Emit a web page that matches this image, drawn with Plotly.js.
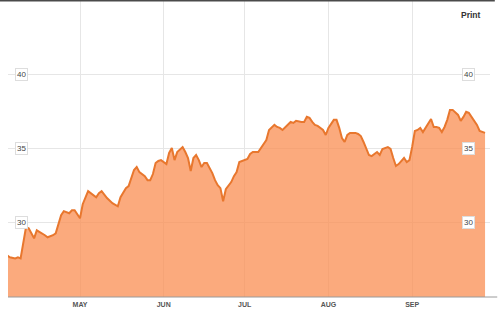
<!DOCTYPE html>
<html>
<head>
<meta charset="utf-8">
<script src="https://cdn.plot.ly/plotly-3.0.1.min.js"></script>
<style>html,body{margin:0;padding:0;background:#fff;}#chart{width:500px;height:311px;}</style>
</head>
<body>
<div id="chart"></div>
<script>
const dates = [
"2012-04-04","2012-04-05","2012-04-07","2012-04-08","2012-04-09","2012-04-11","2012-04-12","2012-04-14","2012-04-15","2012-04-17",
"2012-04-18","2012-04-19","2012-04-21","2012-04-22","2012-04-24","2012-04-25","2012-04-27","2012-04-28","2012-04-29","2012-05-01",
"2012-05-02","2012-05-04","2012-05-05","2012-05-07","2012-05-08","2012-05-09","2012-05-11","2012-05-13","2012-05-15","2012-05-16",
"2012-05-18","2012-05-19","2012-05-21","2012-05-22","2012-05-23","2012-05-25","2012-05-26","2012-05-27","2012-05-28","2012-05-29",
"2012-05-30","2012-05-31","2012-06-02","2012-06-03","2012-06-04","2012-06-05","2012-06-06","2012-06-07","2012-06-08","2012-06-09",
"2012-06-10","2012-06-11","2012-06-12","2012-06-13","2012-06-14","2012-06-15","2012-06-16","2012-06-17","2012-06-18","2012-06-19",
"2012-06-20","2012-06-21","2012-06-22","2012-06-23","2012-06-24","2012-06-26","2012-06-27","2012-06-28","2012-06-29","2012-07-01",
"2012-07-02","2012-07-03","2012-07-04","2012-07-06","2012-07-07","2012-07-08","2012-07-09","2012-07-10","2012-07-12","2012-07-13",
"2012-07-14","2012-07-15","2012-07-17","2012-07-18","2012-07-19","2012-07-20","2012-07-22","2012-07-23","2012-07-24","2012-07-25",
"2012-07-26","2012-07-27","2012-07-28","2012-07-29","2012-07-30","2012-07-31","2012-08-01","2012-08-03","2012-08-04","2012-08-05",
"2012-08-06","2012-08-07","2012-08-08","2012-08-09","2012-08-11","2012-08-12","2012-08-13","2012-08-14","2012-08-15","2012-08-16",
"2012-08-17","2012-08-19","2012-08-20","2012-08-21","2012-08-23","2012-08-24","2012-08-25","2012-08-26","2012-08-27","2012-08-29",
"2012-08-30","2012-08-31","2012-09-01","2012-09-02","2012-09-03","2012-09-04","2012-09-05","2012-09-07","2012-09-08","2012-09-09",
"2012-09-10","2012-09-11","2012-09-12","2012-09-13","2012-09-14","2012-09-15","2012-09-16","2012-09-18","2012-09-19","2012-09-20",
"2012-09-21","2012-09-22","2012-09-23","2012-09-24","2012-09-25","2012-09-26","2012-09-28"
];
const prices = [
27.80,27.67,27.60,27.67,27.60,29.70,29.63,28.95,29.49,29.29,
29.16,29.02,29.16,29.29,30.51,30.78,30.64,30.84,30.84,30.30,
31.25,32.13,31.99,31.72,31.99,32.13,31.66,31.32,31.11,31.72,
32.33,32.47,33.55,33.75,33.41,33.14,32.87,32.87,33.28,34.02,
34.16,34.22,33.95,34.70,35.03,34.22,34.76,34.90,35.10,34.76,
34.36,33.48,34.36,34.56,34.22,33.75,34.02,34.02,33.68,33.34,
32.87,32.53,32.33,31.45,32.26,32.74,33.14,33.41,34.09,34.22,
34.29,34.63,34.76,34.76,35.03,35.24,35.57,36.25,36.59,36.45,
36.39,36.25,36.59,36.79,36.72,36.86,36.79,36.79,37.13,37.06,
36.79,36.59,36.52,36.39,36.25,35.91,36.39,36.93,36.93,36.39,
35.71,35.44,35.91,36.05,36.05,35.98,35.84,35.44,35.03,34.56,
34.49,34.76,34.56,34.97,35.10,34.97,34.36,33.82,33.95,34.36,
34.09,34.22,35.10,36.18,36.25,36.39,36.11,36.72,36.99,36.45,
36.45,36.39,36.11,36.45,36.93,37.60,37.60,37.26,36.86,37.13,
37.47,37.40,37.13,36.79,36.59,36.18,36.05
];
const monthTicks = ["2012-05-01","2012-06-01","2012-07-01","2012-08-01","2012-09-01"];
const monthLabels = ["MAY","JUN","JUL","AUG","SEP"];
const yTicks = [30,35,40];
const yLabels = ["30","35","40"];

const trace = {
  x: dates, y: prices, type: "scatter", mode: "lines",
  fill: "tozeroy", fillcolor: "rgba(250,140,80,0.74)",
  line: {color: "#e8772e", width: 2, shape: "linear"},
  hoverinfo: "skip"
};

const annotations = [];
yTicks.forEach((v, i) => {
  [0.028, 0.955].forEach(px => {
    annotations.push({
      xref: "paper", yref: "y", x: px, y: v, text: yLabels[i], showarrow: false,
      font: {family: "Liberation Sans, Arial, sans-serif", size: 8, color: "#444"},
      bgcolor: "#ffffff", bordercolor: "#dddddd", borderwidth: 1, borderpad: 1,
      xanchor: "center", yanchor: "middle"
    });
  });
});
annotations.push({
  xref: "paper", yref: "paper", x: 0.961, y: 0.95, text: "<b>Print</b>", showarrow: false,
  font: {family: "Liberation Sans, Arial, sans-serif", size: 8.5, color: "#333"},
  xanchor: "center", yanchor: "middle"
});

const layout = {
  width: 500, height: 311,
  margin: {l: 8, r: 10, t: 0, b: 14, pad: 0},
  paper_bgcolor: "#ffffff", plot_bgcolor: "#ffffff",
  showlegend: false,
  xaxis: {
    type: "date", range: ["2012-04-04 08:00", "2012-09-29 20:00"],
    tickmode: "array", tickvals: monthTicks, ticktext: monthLabels,
    showgrid: true, gridcolor: "#e6e6e6", gridwidth: 1,
    zeroline: false, showline: false, ticks: "", ticklabelstandoff: 2,
    tickfont: {family: "Liberation Sans, Arial, sans-serif", size: 7, color: "#555", weight: "bold"},
    fixedrange: true
  },
  yaxis: {
    range: [25, 45], tickmode: "array", tickvals: yTicks,
    showticklabels: false, showgrid: true, gridcolor: "#e6e6e6", gridwidth: 1,
    zeroline: false, showline: false, ticks: "", fixedrange: true
  },
  shapes: [
    {type: "line", xref: "paper", yref: "paper", x0: -0.017, x1: 1.01, y0: 1, y1: 1,
     line: {color: "#4a4a4a", width: 3}},
    {type: "line", xref: "paper", yref: "paper", x0: 0, x1: 1.015, y0: 0, y1: 0,
     line: {color: "#9a9a9a", width: 1}}
  ],
  annotations: annotations
};

Plotly.newPlot("chart", [trace], layout, {displayModeBar: false, staticPlot: true});
</script>
</body>
</html>
